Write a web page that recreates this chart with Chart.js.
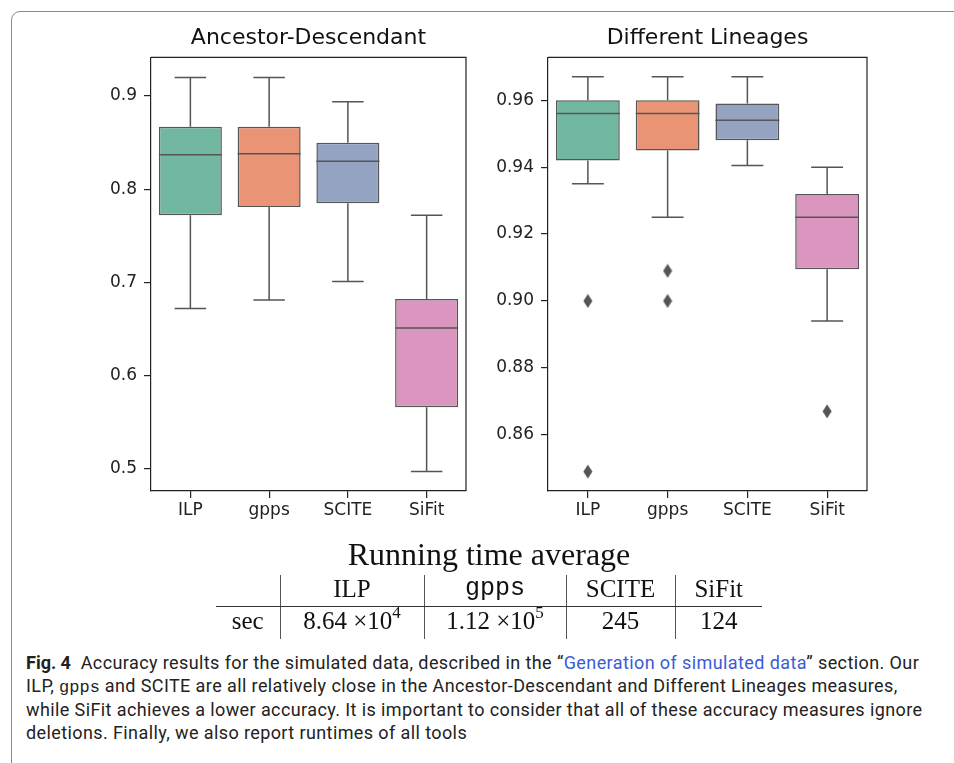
<!DOCTYPE html>
<html>
<head>
<meta charset="utf-8">
<script src="https://cdn.jsdelivr.net/npm/chart.js@4/dist/chart.umd.min.js"></script>
<style>
  body { margin: 0; background: #fff; width: 954px; height: 763px; overflow: hidden; position: relative; }
  #frame { position: absolute; left: 11px; top: 11px; width: 1000px; height: 800px; border: 1.5px solid #8a8a8a; border-radius: 9px; }
  canvas { position: absolute; }
  #c1 { left: 80px; top: 15px; }
  #c2 { left: 470px; top: 15px; }
  #rtTitle { position: absolute; left: 216px; width: 546px; top: 536px; text-align: center; font-family: "Liberation Serif", serif; font-size: 32px; color: #111; }
  #rt { position: absolute; left: 216px; top: 575px; width: 546px; border-collapse: collapse; table-layout: fixed; font-family: "Liberation Serif", serif; font-size: 25px; color: #111; }
  #rt td { text-align: center; padding: 0; line-height: 28px; }
  #rt tr.hd td { height: 31px; border-bottom: 1.5px solid #333; vertical-align: top; }
  #rt tr.bd td { height: 32px; vertical-align: top; }
  #rt td + td { border-left: 1.5px solid #555; }
  .tt { font-family: "Liberation Mono", monospace; }
  #rt sup { font-size: 17px; line-height: 0; position: relative; top: -2px; }
  #caption { position: absolute; left: 26px; top: 652px; font-family: Roboto, sans-serif; font-size: 18px; letter-spacing: 0.4px; line-height: 22.5px; color: #222; white-space: nowrap; }
  #caption b { font-weight: bold; letter-spacing: 0; }
  #caption .lnk { color: #3a5bd6; }
  #caption .tt { font-family: "Liberation Mono", monospace; font-size: 17px; letter-spacing: 0; }
</style>
</head>
<body>
<div id="frame"></div>
<canvas id="c1" width="400" height="530"></canvas>
<canvas id="c2" width="420" height="530"></canvas>
<div id="rtTitle">Running time average</div>
<table id="rt"></table>
<div id="caption"><b>Fig. 4</b>&nbsp; Accuracy results for the simulated data, described in the &ldquo;<span class="lnk">Generation of simulated data</span>&rdquo; section. Our<br>ILP, <span class="tt">gpps</span> and SCITE are all relatively close in the Ancestor-Descendant and Different Lineages measures,<br>while SiFit achieves a lower accuracy. It is important to consider that all of these accuracy measures ignore<br>deletions. Finally, we also report runtimes of all tools</div>
<script>
const categories = ['ILP', 'gpps', 'SCITE', 'SiFit'];
const boxColors = ['#72b7a1', '#e99575', '#95a3c3', '#db96c0'];
const lineGray = '#555555';

// Ancestor-Descendant
const adLow    = [0.672, 0.681, 0.701, 0.497];
const adQ1     = [0.772, 0.781, 0.785, 0.566];
const adMedian = [0.837, 0.838, 0.830, 0.651];
const adQ3     = [0.867, 0.867, 0.850, 0.682];
const adHigh   = [0.920, 0.920, 0.894, 0.772];
const adOutliers = [];
const adTicks = [0.5, 0.6, 0.7, 0.8, 0.9];
const adRange = [0.476, 0.9415];

// Different Lineages
const dlLow    = [0.935, 0.925, 0.9405, 0.894];
const dlQ1     = [0.942, 0.945, 0.948, 0.9095];
const dlMedian = [0.956, 0.956, 0.954, 0.925];
const dlQ3     = [0.960, 0.960, 0.959, 0.932];
const dlHigh   = [0.967, 0.967, 0.967, 0.940];
const dlOutliers = [['ILP', 0.900], ['ILP', 0.849], ['gpps', 0.909], ['gpps', 0.900], ['SiFit', 0.867]];
const dlTicks = [0.86, 0.88, 0.90, 0.92, 0.94, 0.96];
const dlRange = [0.8432, 0.9728];

// running time table
const runtimeMantissa = [8.64, 1.12, 245, 124];
const runtimeExponent = [4, 5, null, null];

// thin diamond marker for the outliers (like matplotlib's 'd')
const diamond = document.createElement('canvas');
diamond.width = 10; diamond.height = 15;
(function () {
  const g = diamond.getContext('2d');
  g.fillStyle = lineGray;
  g.beginPath();
  g.moveTo(5, 0.5); g.lineTo(9.5, 7.5); g.lineTo(5, 14.5); g.lineTo(0.5, 7.5);
  g.closePath();
  g.fill();
})();

// whiskers, caps, medians and the top/right frame, all placed through the scales
function boxParts(low, q1, median, q3, high) {
  return {
    id: 'boxParts',
    afterLayout(chart) {
      const t = chart.titleBlock;
      if (t) {
        t.left = chart.chartArea.left;
        t.right = chart.chartArea.right;
        t.width = t.right - t.left;
      }
    },
    beforeDatasetsDraw(chart) {
      const { ctx, scales: { y } } = chart;
      const bars = chart.getDatasetMeta(0).data;
      ctx.save();
      ctx.strokeStyle = lineGray;
      ctx.lineWidth = 1.5;
      bars.forEach((bar, i) => {
        const cx = bar.x, hw = bar.width / 4;
        const yLo = y.getPixelForValue(low[i]), yHi = y.getPixelForValue(high[i]);
        ctx.beginPath();
        ctx.moveTo(cx, y.getPixelForValue(q1[i])); ctx.lineTo(cx, yLo);
        ctx.moveTo(cx, y.getPixelForValue(q3[i])); ctx.lineTo(cx, yHi);
        ctx.moveTo(cx - hw, yLo); ctx.lineTo(cx + hw, yLo);
        ctx.moveTo(cx - hw, yHi); ctx.lineTo(cx + hw, yHi);
        ctx.stroke();
      });
      ctx.restore();
    },
    afterDatasetsDraw(chart) {
      const { ctx, chartArea: a, scales: { y } } = chart;
      const bars = chart.getDatasetMeta(0).data;
      ctx.save();
      ctx.strokeStyle = lineGray;
      ctx.lineWidth = 1.5;
      bars.forEach((bar, i) => {
        const ym = y.getPixelForValue(median[i]);
        ctx.beginPath();
        ctx.moveTo(bar.x - bar.width / 2, ym);
        ctx.lineTo(bar.x + bar.width / 2, ym);
        ctx.stroke();
      });
      ctx.strokeStyle = '#222';
      ctx.lineWidth = 1.2;
      ctx.beginPath();
      ctx.moveTo(a.left, a.top); ctx.lineTo(a.right, a.top); ctx.lineTo(a.right, a.bottom);
      ctx.stroke();
      ctx.restore();
    }
  };
}

function makeChart(id, title, low, q1, median, q3, high, outliers, ticks, range, decimals, axisWidth, padRight) {
  const axisLine = { display: true, color: '#222', width: 1.2 };
  const tickGrid = { display: true, drawOnChartArea: false, offset: false, tickLength: 7, color: '#222', lineWidth: 1.2 };
  const tickFont = { family: 'DejaVu Sans', size: 17 };
  return new Chart(document.getElementById(id), {
    type: 'bar',
    data: {
      labels: categories,
      datasets: [{
        data: categories.map((c, i) => [q1[i], q3[i]]),
        backgroundColor: boxColors,
        borderColor: lineGray,
        borderWidth: 1.5,
        borderSkipped: false,
        categoryPercentage: 0.8,
        barPercentage: 1.0,
        order: 1
      }, {
        type: 'line',
        data: outliers.map(([c, v]) => ({ x: c, y: v })),
        showLine: false,
        pointStyle: diamond,
        pointRadius: 5,
        order: 0
      }]
    },
    options: {
      responsive: false,
      animation: false,
      layout: { padding: { right: padRight } },
      plugins: {
        legend: { display: false },
        tooltip: { enabled: false },
        title: {
          display: true, text: title, color: '#111',
          font: { family: 'DejaVu Sans', size: 22, weight: 'normal' },
          padding: { top: 10, bottom: 6 }
        }
      },
      scales: {
        x: {
          grid: tickGrid, border: axisLine,
          ticks: { color: '#222', font: tickFont, padding: 2 },
          afterFit(sc) { sc.height = 54; }
        },
        y: {
          min: range[0], max: range[1],
          grid: tickGrid, border: axisLine,
          ticks: { color: '#222', font: tickFont, padding: 7, callback: v => v.toFixed(decimals) },
          afterBuildTicks(sc) { sc.ticks = ticks.map(v => ({ value: v })); },
          afterFit(sc) { sc.width = axisWidth; }
        }
      }
    },
    plugins: [boxParts(low, q1, median, q3, high)]
  });
}

makeChart('c1', 'Ancestor-Descendant', adLow, adQ1, adMedian, adQ3, adHigh, adOutliers, adTicks, adRange, 1, 71, 14);
makeChart('c2', 'Different Lineages', dlLow, dlQ1, dlMedian, dlQ3, dlHigh, dlOutliers, dlTicks, dlRange, 2, 78, 23);

// running time table
const rt = document.getElementById('rt');
const widths = [64, 144, 142, 109, 87];
const cg = document.createElement('colgroup');
widths.forEach(w => { const c = document.createElement('col'); c.style.width = w + 'px'; cg.appendChild(c); });
rt.appendChild(cg);
const hd = rt.insertRow(); hd.className = 'hd';
hd.insertCell().textContent = '';
categories.forEach(c => {
  const td = hd.insertCell();
  td.textContent = c;
  if (c === 'gpps') td.className = 'tt';
});
const bd = rt.insertRow(); bd.className = 'bd';
bd.insertCell().textContent = 'sec';
runtimeMantissa.forEach((m, i) => {
  const td = bd.insertCell();
  td.innerHTML = runtimeExponent[i] === null ? String(m) : m.toFixed(2) + ' \u00d710<sup>' + runtimeExponent[i] + '</sup>';
});
</script>
</body>
</html>
